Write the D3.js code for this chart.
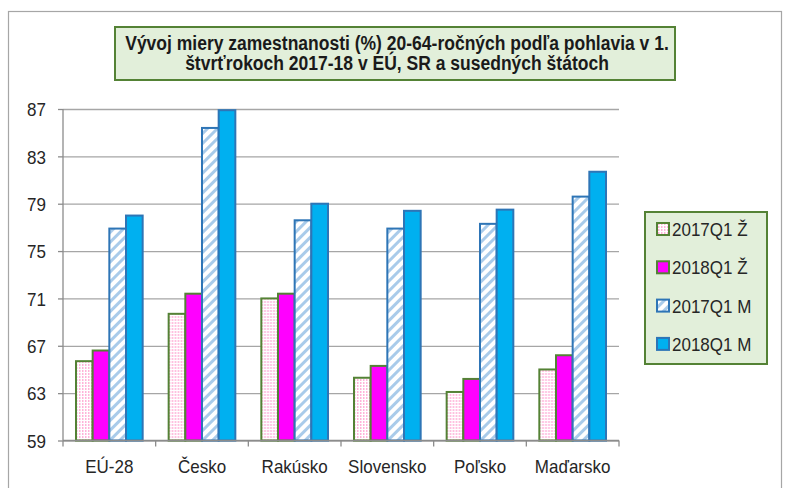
<!DOCTYPE html>
<html>
<head>
<meta charset="utf-8">
<script src="https://cdn.jsdelivr.net/npm/d3@7"></script>
<style>
  body { margin: 0; background: #fff; }
  text { font-family: "Liberation Sans", Arial, sans-serif; }
</style>
</head>
<body>
<svg id="chart" width="785" height="488"></svg>
<script>
// data
var countries = ["EÚ-28", "Česko", "Rakúsko", "Slovensko", "Poľsko", "Maďarsko"];
var seriesNames = ["2017Q1 Ž", "2018Q1 Ž", "2017Q1 M", "2018Q1 M"];
var women2017 = [65.7, 69.7, 71.0, 64.3, 63.1, 65.0];
var women2018 = [66.6, 71.4, 71.4, 65.3, 64.2, 66.2];
var men2017 = [76.9, 85.4, 77.6, 76.9, 77.3, 79.6];
var men2018 = [78.0, 86.9, 79.0, 78.4, 78.5, 81.7];
var yTicks = [59, 63, 67, 71, 75, 79, 83, 87];
var titleLines = ["Vývoj miery zamestnanosti (%) 20-64-ročných podľa pohlavia v 1.",
                  "štvrťrokoch 2017-18 v EÚ, SR a susedných štátoch"];

var allSeries = [women2017, women2018, men2017, men2018];

var svg = d3.select("#chart");
var margin = {left: 63, right: 166, top: 109, bottom: 47};
var width = 785 - margin.left - margin.right;
var height = 488 - margin.top - margin.bottom - 0.5;

var fills = ["url(#dots)", "#ff00ff", "url(#hatch)", "#00b0f0"];
var strokes = ["#548235", "#548235", "#2e75b6", "#2e75b6"];

// excel text looks narrow and tall: keep the width of size w, draw at size h
function narrow(sel, w, h) {
    sel.each(function () {
        var t = d3.select(this).attr("font-size", w);
        var len = this.getComputedTextLength();
        t.attr("font-size", h).attr("textLength", len).attr("lengthAdjust", "spacingAndGlyphs");
    });
}

// patterns
var defs = svg.append("defs");
var dots = defs.append("pattern").attr("id", "dots")
    .attr("patternUnits", "userSpaceOnUse").attr("width", 3).attr("height", 3);
dots.append("rect").attr("width", 3).attr("height", 3).attr("fill", "#fff");
dots.append("rect").attr("x", 1).attr("y", 0).attr("width", 1.5).attr("height", 2).attr("fill", "#ffb3d9");

var hatch = defs.append("pattern").attr("id", "hatch")
    .attr("patternUnits", "userSpaceOnUse").attr("width", 7).attr("height", 7)
    .attr("patternTransform", "rotate(45)");
hatch.append("rect").attr("width", 7).attr("height", 7).attr("fill", "#fff");
hatch.append("rect").attr("width", 3).attr("height", 7).attr("fill", "#a9cbea");

// outer chart frame
svg.append("rect")
    .attr("x", 8.5).attr("y", 11.5).attr("width", 773).attr("height", 490)
    .attr("fill", "#fff").attr("stroke", "#a6a6a6").attr("stroke-width", 1.2);

var g = svg.append("g").attr("transform", "translate(" + margin.left + "," + margin.top + ")");

var x0 = d3.scaleBand().domain(countries).range([0, width]).padding(0);
var x1 = d3.scaleBand().domain(seriesNames).range([0, x0.bandwidth()])
    .paddingInner(0).paddingOuter(0.78);
var y = d3.scaleLinear().domain([59, 87]).range([height, 0]);

// gridlines
g.append("g").attr("class", "gridy")
    .call(d3.axisLeft(y).tickValues(yTicks).tickSize(-width).tickFormat(""))
    .call(function (s) { s.select(".domain").remove(); })
    .selectAll("line").attr("stroke", "#a6a6a6").attr("stroke-width", 1.3);

// bars
var groups = g.selectAll(".country").data(countries).enter().append("g")
    .attr("class", "country")
    .attr("transform", function (d) { return "translate(" + x0(d) + ",0)"; });

groups.selectAll("rect")
    .data(function (d, i) {
        return allSeries.map(function (s, k) { return {name: seriesNames[k], k: k, value: s[i]}; });
    })
    .enter().append("rect")
    .attr("x", function (d) { return x1(d.name); })
    .attr("y", function (d) { return y(d.value); })
    .attr("width", x1.bandwidth())
    .attr("height", function (d) { return height - y(d.value); })
    .attr("fill", function (d) { return fills[d.k]; })
    .attr("stroke", function (d) { return strokes[d.k]; })
    .attr("stroke-width", 2);

// y axis
var yAxis = g.append("g").attr("class", "y axis")
    .call(d3.axisLeft(y).tickValues(yTicks).tickSize(5).tickPadding(12).tickFormat(d3.format("d")));
yAxis.select(".domain").attr("stroke", "#8c8c8c").attr("stroke-width", 1.3).attr("d", "M0," + height + "V0");
yAxis.selectAll("line").attr("stroke", "#8c8c8c").attr("stroke-width", 1.3);
yAxis.selectAll("text").attr("fill", "#262626").attr("dy", "0.36em").call(narrow, 17, 19);

// x axis
var xAxis = g.append("g").attr("class", "x axis")
    .attr("transform", "translate(0," + height + ")")
    .call(d3.axisBottom(x0).tickSize(0).tickPadding(19));
xAxis.select(".domain").attr("stroke", "#8c8c8c").attr("stroke-width", 1.3)
    .attr("d", "M0,0H" + width);
xAxis.selectAll("text").attr("fill", "#262626").call(narrow, 17, 19);
var boundaries = countries.map(function (d) { return x0(d); }).concat([width]);
xAxis.selectAll(".bound").data(boundaries).enter().append("line")
    .attr("class", "bound")
    .attr("x1", function (d) { return d; }).attr("x2", function (d) { return d; })
    .attr("y1", 0).attr("y2", 6)
    .attr("stroke", "#8c8c8c").attr("stroke-width", 1.3);

// title
svg.append("rect")
    .attr("x", 115).attr("y", 27).attr("width", 560).attr("height", 53)
    .attr("fill", "#e2efda").attr("stroke", "#548235").attr("stroke-width", 2);
svg.selectAll(".title").data(titleLines).enter().append("text")
    .attr("class", "title")
    .attr("x", 397).attr("y", function (d, i) { return 50 + i * 20; })
    .attr("text-anchor", "middle").attr("font-weight", "bold")
    .attr("fill", "#1a1a1a")
    .text(function (d) { return d; })
    .call(narrow, 17.5, 19.5);

// legend
svg.append("rect")
    .attr("x", 645).attr("y", 212).attr("width", 122).attr("height", 152)
    .attr("fill", "#e2efda").attr("stroke", "#548235").attr("stroke-width", 2);
var legend = svg.selectAll(".legend").data(seriesNames).enter().append("g")
    .attr("class", "legend")
    .attr("transform", function (d, i) { return "translate(657," + (229 + i * 38.3) + ")"; });
legend.append("rect")
    .attr("x", 0).attr("y", -6).attr("width", 12).attr("height", 12)
    .attr("fill", function (d, i) { return fills[i]; })
    .attr("stroke", function (d, i) { return strokes[i]; })
    .attr("stroke-width", 2);
legend.append("text")
    .attr("x", 15).attr("y", 7)
    .attr("fill", "#262626")
    .text(function (d) { return d; })
    .call(narrow, 17, 19);
</script>
</body>
</html>
